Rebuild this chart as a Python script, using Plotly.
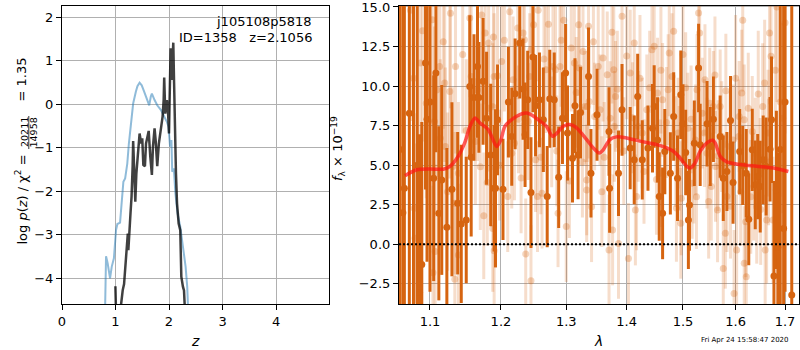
import plotly.graph_objects as go
import math

# ---------------- Left panel: log p(z) ----------------
z_black = [0.998, 1.01, 1.085, 1.11, 1.135, 1.16, 1.17, 1.19, 1.21, 1.23, 1.24, 1.26, 1.28, 1.30, 1.31, 1.32,
           1.33, 1.35, 1.37, 1.39, 1.41, 1.43, 1.45, 1.48, 1.50, 1.52, 1.55, 1.57, 1.60, 1.62, 1.65, 1.68,
           1.70, 1.73, 1.75, 1.78, 1.81, 1.85, 1.88, 1.90, 1.91, 1.93, 1.96, 1.98, 2.00, 2.01, 2.03, 2.05,
           2.07, 2.08, 2.095, 2.11, 2.13, 2.15, 2.18, 2.21, 2.23, 2.26, 2.28, 2.30]
logp_black = [-4.18, -4.8, -4.8, -4.46, -4.27, -4.13, -3.96, -3.59, -3.43, -2.97, -3.35, -2.72, -2.51, -2.12, -1.85, -1.43,
              -0.84, -1.59, -2.24, -1.59, -1.2, -0.82, -0.67, -0.9, -0.78, -1.39, -1.42, -0.9, -0.67, -0.61, -1.2, -1.62,
              -0.97, -0.55, -0.82, -1.42, -0.9, -0.55, -0.28, 0.1, 0.62, -0.21, 0.1, -0.13, -0.67, 0.02, 1.29, 0.56,
              1.33, 1.42, 0.48, -0.67, -1.59, -2.28, -2.74, -2.89, -3.96, -4.19, -4.28, -4.8]

z_blue = [0.804, 0.823, 0.854, 0.898, 0.93, 0.97, 1.01, 1.035, 1.085, 1.116, 1.147, 1.18, 1.22, 1.25, 1.29, 1.33,
          1.38, 1.41, 1.45, 1.49, 1.53, 1.58, 1.63, 1.66, 1.68, 1.73, 1.78, 1.85, 1.91, 1.96, 1.99, 2.02,
          2.045, 2.06, 2.09, 2.12, 2.16, 2.21, 2.26, 2.31, 2.34, 2.36]
logp_blue = [-4.8, -3.49, -3.66, -4.0, -3.73, -3.54, -2.89, -2.75, -2.72, -2.31, -1.78, -1.70, -1.36, -0.90, -0.36, 0.02,
             0.29, 0.42, 0.50, 0.44, 0.31, 0.14, -0.02, 0.18, 0.25, 0.10, -0.02, -0.13, -0.27, -0.40, -0.51, -0.97,
             -0.82, -1.55, -1.47, -2.05, -2.51, -2.81, -3.27, -3.73, -4.19, -4.8]

left_xticks = [0, 1, 2, 3, 4]
left_yticks = [-4, -3, -2, -1, 0, 1, 2]

# ---------------- Right panel: spectrum ----------------
lam_dark = [1.060, 1.064, 1.066, 1.0725, 1.078, 1.083, 1.086, 1.089, 1.094, 1.096,
            1.100, 1.105, 1.108, 1.112, 1.116, 1.123, 1.130, 1.138, 1.143, 1.150,
            1.155, 1.157, 1.161, 1.166, 1.168, 1.174, 1.179, 1.185, 1.190, 1.192,
            1.195, 1.203, 1.211, 1.216, 1.221, 1.228, 1.233, 1.236, 1.240, 1.245,
            1.248, 1.252, 1.258, 1.264, 1.270, 1.274, 1.281, 1.288, 1.294, 1.299,
            1.302, 1.310, 1.314, 1.319, 1.323, 1.336, 1.340, 1.350, 1.370, 1.371,
            1.386, 1.392, 1.406, 1.413, 1.419, 1.427, 1.437, 1.445, 1.448, 1.454,
            1.457, 1.463, 1.467, 1.477, 1.483, 1.490, 1.496, 1.500, 1.505, 1.510,
            1.512, 1.521, 1.529, 1.532, 1.545, 1.551, 1.557, 1.570, 1.576, 1.583,
            1.590, 1.595, 1.608, 1.614, 1.621, 1.626, 1.633, 1.639, 1.644, 1.649,
            1.655, 1.661, 1.669, 1.672, 1.677, 1.682, 1.685, 1.690, 1.697, 1.700,
            1.714]
flux_dark = [6.0, 2.0, 3.54, 8.29, 16.0, 5.0, -3.04, -1.27, 11.46, 7.9,
             9.0, 4.18, 10.82, 1.96, 4.07, 1.08, 3.48, 2.6, 1.29, 1.54,
             9.98, 5.5, 9.28, 11.24, 9.28, 10.3, 7.97, 5.65, 3.54, 3.54,
             7.87, 3.48, 8.99, 6.81, 9.51, 12.72, 9.81, 6.92, 9.13, 3.27,
             11.84, 8.76, 9.13, 7.87, 3.02, 9.2, 9.13, 4.24, 7.97, 10.82,
             7.03, 5.44, 8.76, 5.65, 8.33, 10.61, 4.49, 8.19, 7.13, 3.54,
             4.49, 8.5, 6.08, 5.34, 9.35, 5.34, 6.08, 7.34, 8.71, 6.6,
             3.02, 1.96, 5.86, 4.49, 8.08, 4.18, 9.45, 7.62, 5.8, 1.54,
             2.49, 6.39, 11.14, 6.29, 7.62, 6.18, 7.91, 6.81, 4.18, 4.6,
             7.83, 3.9, 5.86, 4.98, 4.49, 1.58, 5.97, 3.76, 4.28, 3.65,
             5.34, 4.92, 6.01, 7.87, -2.0, 3.44, -0.19, 6.0, 1.0, 9.0,
             -3.2]
err_dark = [25, 25, 20, 18, 20, 15, 10, 9, 8, 9,
            12, 6.5, 5, 5.5, 6, 5, 5.5, 4.5, 5, 4,
            4.5, 5, 4, 4.5, 3.5, 4, 4.2, 4.5, 4, 5,
            3.5, 3.2, 3.5, 3.1, 3.5, 3.5, 3.2, 3.3, 3.1, 3.5,
            3.5, 3.2, 3.0, 3.3, 3.2, 3.1, 3.0, 3.2, 2.9, 3.1,
            3.0, 2.8, 3.0, 2.8, 2.9, 3.1, 2.8, 2.9, 2.8, 2.8,
            2.7, 2.9, 2.6, 2.8, 2.7, 2.5, 2.7, 2.8, 2.6, 2.7,
            2.8, 2.9, 2.7, 2.6, 2.8, 2.7, 2.8, 2.5, 2.7, 3.1,
            2.9, 2.7, 2.8, 2.6, 2.7, 2.5, 2.7, 2.6, 2.7, 2.5,
            2.8, 2.6, 2.7, 2.5, 2.8, 2.9, 2.6, 2.8, 2.7, 2.9,
            2.8, 3.1, 3.3, 4, 6, 5, 6, 15, 15, 12,
            20]

lam_faint = [1.074, 1.079, 1.080, 1.078, 1.087, 1.090, 1.095, 1.103, 1.104, 1.106,
             1.107, 1.109, 1.113, 1.114, 1.118, 1.120, 1.121, 1.124, 1.127, 1.128,
             1.131, 1.134, 1.134, 1.135, 1.139, 1.139, 1.145, 1.150, 1.155, 1.157,
             1.163, 1.166, 1.170, 1.172, 1.175, 1.177, 1.180, 1.182, 1.182, 1.188,
             1.188, 1.189, 1.190, 1.190, 1.195, 1.198, 1.201, 1.205, 1.210, 1.213,
             1.216, 1.218, 1.220, 1.225, 1.226, 1.230, 1.233, 1.235, 1.237, 1.241,
             1.243, 1.245, 1.245, 1.249, 1.252, 1.255, 1.256, 1.260, 1.262, 1.265,
             1.268, 1.272, 1.277, 1.279, 1.283, 1.285, 1.287, 1.290, 1.292, 1.296,
             1.300, 1.305, 1.308, 1.313, 1.316, 1.320, 1.321, 1.326, 1.327, 1.330,
             1.333, 1.333, 1.334, 1.336, 1.337, 1.341, 1.344, 1.346, 1.352, 1.355,
             1.358, 1.360, 1.362, 1.367, 1.370, 1.372, 1.375, 1.376, 1.378, 1.379,
             1.381, 1.384, 1.386, 1.392, 1.395, 1.400, 1.403, 1.406, 1.410, 1.413,
             1.415, 1.417, 1.420, 1.423, 1.427, 1.430, 1.435, 1.440, 1.444, 1.448,
             1.452, 1.454, 1.459, 1.460, 1.463, 1.470, 1.473, 1.475, 1.480, 1.483,
             1.487, 1.488, 1.491, 1.493, 1.496, 1.497, 1.500, 1.505, 1.509, 1.515,
             1.517, 1.520, 1.523, 1.525, 1.526, 1.529, 1.531, 1.536, 1.540, 1.541,
             1.545, 1.548, 1.550, 1.553, 1.557, 1.560, 1.561, 1.565, 1.566, 1.570,
             1.573, 1.576, 1.580, 1.581, 1.583, 1.589, 1.590, 1.595, 1.597, 1.600,
             1.602, 1.606, 1.607, 1.610, 1.612, 1.614, 1.617, 1.617, 1.620, 1.621,
             1.625, 1.630, 1.633, 1.636, 1.639, 1.642, 1.645, 1.649, 1.650, 1.654,
             1.658, 1.659, 1.662, 1.665, 1.666, 1.668, 1.671, 1.675, 1.680, 1.683,
             1.690, 1.695, 1.700]
flux_faint = [14.8, 2.28, 0.38, 10.5, 11.46, 13.5, 8.92, 14.2, -1.8, 7.76,
              -0.46, 9.76, 11.24, 6.7, 12.8, 10.2, 6.18, 3.33, 9.66, 14.6,
              4.92, 2.6, -2.2, 11.24, 4.49, -0.67, 12.0, 7.2, 14.3, 10.6,
              6.5, 9.76, 4.9, 14.5, 1.8, 13.35, 3.9, 12.72, 8.6, 8.7,
              1.0, 13.1, 10.6, -0.4, 10.65, 5.0, 11.56, 12.9, 3.02, 14.7,
              5.76, 10.4, 6.39, 13.67, 7.9, 4.2, 13.35, 12.93, -0.61, 7.76,
              10.6, -2.3, 12.3, 13.88, 5.34, 3.02, 14.8, 5.5, 3.23, 11.71,
              11.03, 13.9, 7.1, 11.24, 11.03, 5.9, 1.96, 11.24, 12.9, 14.16,
              1.12, 4.0, 12.4, 11.46, 9.6, 13.88, 11.14, 5.2, 12.19, 8.71,
              4.07, 3.44, 8.71, 13.78, 9.03, 2.38, 12.8, 8.08, 11.24, 8.5,
              3.33, 11.77, 5.5, 10.72, -0.36, 7.97, 13.4, 0.91, 11.03, 7.45,
              9.35, 9.8, 0.06, 14.41, 5.9, 11.9, -0.89, 10.82, 8.0, 12.72,
              2.17, 3.02, 7.45, 10.5, 7.03, 4.6, 8.5, 9.9, 12.3, 12.51,
              4.1, 9.56, 4.49, 11.0, 9.13, 7.7, 9.77, 12.09, 10.6, 13.46,
              5.86, 2.3, 7.03, 5.44, 1.33, 2.91, 12.0, 9.9, 7.34, 7.9,
              3.86, 4.92, 6.6, 3.0, 9.77, 14.62, 13.35, 8.29, 7.03, 10.4,
              5.76, 2.7, 8.92, 3.65, 8.71, 10.7, 4.92, 2.17, 5.6, 8.71,
              6.81, -1.52, 0.7, 9.7, 3.02, 6.18, 2.4, 6.6, -3.1, 10.5,
              -0.36, 6.81, 8.08, 3.3, 9.56, 14.16, 7.87, -1.2, 1.43, -2.05,
              8.6, 3.0, 7.13, 3.65, 5.76, 2.38, 9.5, 4.49, 2.2, 8.71,
              10.2, -0.36, 1.54, 7.03, 5.2, 13.35, 11.88, 1.54, 11.0, 15.0,
              9.0, 7.97, 14.0]
err_faint = [7, 6, 6, 6.5, 6, 7, 6, 6.5, 5.5, 6,
             5.5, 5.5, 6, 5, 5.5, 5, 5, 5, 5.5, 6,
             5, 4.5, 5, 5.5, 4.5, 4.5, 5, 4.5, 5, 4.5,
             4, 4.5, 4, 5, 4, 4.5, 4, 4.5, 4, 4,
             4, 4.5, 4, 4, 4.5, 3.5, 4, 4.5, 3.5, 4.5,
             3.5, 4, 3.6, 4.5, 3.4, 3.5, 4, 4.1, 3.5, 3.7,
             4, 3.5, 4, 4.5, 3.3, 3.5, 4.5, 3.6, 3.5, 4,
             4, 4.5, 3.5, 4.1, 4, 3.5, 3.4, 4, 4.2, 4.5,
             3.5, 3.6, 4, 4.1, 3.5, 4.5, 4, 3.5, 4, 3.5,
             3.5, 3.3, 3.5, 4.5, 3.6, 3.5, 4, 3.4, 4, 3.5,
             3.5, 4, 3.5, 4, 3.5, 3.6, 4.5, 3.5, 4, 3.5,
             3.5, 3.7, 3.5, 4.5, 3.4, 4, 3.5, 4, 3.5, 4,
             3.5, 3.4, 3.5, 4, 3.5, 3.3, 3.5, 3.6, 4, 4,
             3.5, 3.5, 3.4, 4, 3.6, 3.5, 3.5, 4, 4, 4.5,
             3.5, 3.4, 3.5, 3.3, 3.5, 3.6, 4, 3.5, 3.5, 3.4,
             3.5, 3.6, 3.5, 3.3, 3.5, 4.5, 4.5, 3.5, 3.4, 3.5,
             3.5, 3.6, 3.5, 3.4, 3.5, 3.7, 3.5, 3.3, 3.5, 3.6,
             3.5, 3.4, 3.5, 3.6, 3.5, 3.5, 3.3, 3.5, 4, 4,
             3.5, 3.6, 3.5, 3.4, 4, 4.5, 3.5, 3.6, 3.5, 3.4,
             3.5, 3.6, 3.5, 3.4, 3.5, 3.6, 4, 3.5, 3.5, 4,
             4, 3.5, 4, 4, 4, 4.5, 4.5, 4, 5, 6,
             6, 6, 7]

lam_model = [1.0668, 1.0822, 1.1000, 1.1181, 1.1273, 1.1388, 1.1478, 1.1553, 1.1624, 1.1695,
             1.1815, 1.1937, 1.2000, 1.2059, 1.2233, 1.2385, 1.2490, 1.2587, 1.2689, 1.2783,
             1.2846, 1.2952, 1.3059, 1.3166, 1.3329, 1.3438, 1.3537, 1.3604, 1.3715, 1.3828,
             1.3998, 1.4228, 1.4525, 1.4704, 1.4825, 1.4947, 1.5071, 1.5132, 1.5225, 1.5318,
             1.5445, 1.5559, 1.5604, 1.5699, 1.5828, 1.6088, 1.6420, 1.6758, 1.7069]
flux_model = [4.33, 4.71, 4.76, 4.75, 4.93, 5.57, 6.41, 7.46, 7.99, 7.67,
              7.25, 6.19, 6.61, 7.46, 8.10, 8.30, 8.10, 7.79, 7.46, 6.83,
              7.00, 7.46, 7.57, 7.36, 6.62, 6.09, 5.77, 5.98, 6.62, 6.79,
              6.72, 6.52, 6.30, 6.09, 5.88, 5.45, 4.93, 4.82, 5.14, 5.88,
              6.41, 6.58, 6.41, 5.57, 5.21, 5.04, 4.93, 4.82, 4.60]

right_xticks = [1.1, 1.2, 1.3, 1.4, 1.5, 1.6, 1.7]
right_yticks = [-2.5, 0.0, 2.5, 5.0, 7.5, 10.0, 12.5, 15.0]

# ---------------- Figure ----------------
W, H = 800, 350
def px(xp):
    return xp / W
def py(yp):
    return 1 - yp / H

FONT = "DejaVu Sans"
DARK = "rgb(214,100,16)"

fig = go.Figure()

fig.add_trace(go.Scatter(x=z_blue, y=logp_blue, mode="lines",
                         line=dict(color="rgba(31,119,180,0.5)", width=2),
                         xaxis="x", yaxis="y", showlegend=False))
fig.add_trace(go.Scatter(x=z_black, y=logp_black, mode="lines",
                         line=dict(color="rgba(0,0,0,0.75)", width=2.5),
                         xaxis="x", yaxis="y", showlegend=False))

nf = min(len(lam_faint), len(flux_faint), len(err_faint))
fig.add_trace(go.Scatter(x=lam_faint[:nf], y=flux_faint[:nf], mode="markers",
                         marker=dict(color="rgba(214,100,16,0.28)", size=7, line=dict(width=0)),
                         error_y=dict(type="data", array=err_faint[:nf], visible=True,
                                      thickness=3, width=0, color="rgba(214,100,16,0.22)"),
                         xaxis="x2", yaxis="y2", showlegend=False))
nd = min(len(lam_dark), len(flux_dark), len(err_dark))
fig.add_trace(go.Scatter(x=lam_dark[:nd], y=flux_dark[:nd], mode="markers",
                         marker=dict(color=DARK, size=7, line=dict(width=0)),
                         error_y=dict(type="data", array=err_dark[:nd], visible=True,
                                      thickness=3, width=0, color=DARK),
                         xaxis="x2", yaxis="y2", showlegend=False))
fig.add_trace(go.Scatter(x=lam_model, y=flux_model, mode="lines",
                         line=dict(color="rgba(255,20,20,0.7)", width=3.5, shape="spline", smoothing=0.8),
                         xaxis="x2", yaxis="y2", showlegend=False))

axis_common = dict(showline=True, linecolor="black", linewidth=1.2, mirror=True,
                   ticks="outside", ticklen=5, tickwidth=1.1, tickcolor="black",
                   showgrid=True, gridcolor="#b0b0b0", gridwidth=1, zeroline=False,
                   tickfont=dict(family=FONT, size=13, color="black"), automargin=False,
                   ticklabeloverflow="allow")

ydom = [py(304), py(5.7)]
fig.update_layout(
    width=W, height=H, margin=dict(l=0, r=0, t=0, b=0),
    paper_bgcolor="white", plot_bgcolor="white", showlegend=False,
    font=dict(family=FONT, size=13, color="black"),
    xaxis=dict(domain=[px(62), px(329)], range=[0, 4.99], tickvals=left_xticks,
               anchor="y", **axis_common),
    yaxis=dict(domain=ydom, range=[-4.59, 2.27], tickvals=left_yticks,
               anchor="x", **axis_common),
    xaxis2=dict(domain=[px(399), px(799)], type="log",
                range=[math.log10(1.059), math.log10(1.7293)],
                tickvals=right_xticks, ticktext=[f"{v:.1f}" for v in right_xticks],
                anchor="y2", **axis_common),
    yaxis2=dict(domain=ydom, range=[-3.77, 15.08], tickvals=right_yticks,
                ticktext=[("\u2212" if v < 0 else "") + f"{abs(v):.1f}" for v in right_yticks],
                anchor="x2", **axis_common),
)

# zero line (dotted)
fig.add_shape(type="line", xref="x2 domain", x0=0, x1=1, yref="y2", y0=0, y1=0,
              line=dict(color="black", width=2, dash="2px,2px"), layer="above")

ann = []
# left y title, built from pieces
ann.append(dict(x=px(21.5), y=py(200), xref="paper", yref="paper", showarrow=False,
                text="log <i>p</i>(<i>z</i>) / χ<sup>2</sup> =", textangle=-90,
                font=dict(family=FONT, size=13), xanchor="center", yanchor="middle"))
ann.append(dict(x=px(24.5), y=py(132.5), xref="paper", yref="paper", showarrow=False,
                text="20211", textangle=-90, font=dict(family=FONT, size=9.5),
                xanchor="center", yanchor="middle"))
ann.append(dict(x=px(33), y=py(132.5), xref="paper", yref="paper", showarrow=False,
                text="14958", textangle=-90, font=dict(family=FONT, size=9.5),
                xanchor="center", yanchor="middle"))
ann.append(dict(x=px(21.5), y=py(80), xref="paper", yref="paper", showarrow=False,
                text="= 1.35", textangle=-90,
                font=dict(family=FONT, size=13), xanchor="center", yanchor="middle"))
fig.add_shape(type="line", xref="paper", yref="paper", x0=px(28.8), x1=px(28.8),
              y0=py(116), y1=py(149), line=dict(color="black", width=0.8))

# right y title
ann.append(dict(x=px(338), y=py(149), xref="paper", yref="paper", showarrow=False,
                text="<i>f</i><sub>λ</sub> × 10<sup>\u221219</sup>", textangle=-90,
                font=dict(family=FONT, size=13), xanchor="center", yanchor="middle"))
# x titles
ann.append(dict(x=px(195), y=py(341), xref="paper", yref="paper", showarrow=False,
                text="<i>z</i>", font=dict(family=FONT, size=14), xanchor="center", yanchor="middle"))
ann.append(dict(x=px(598), y=py(341), xref="paper", yref="paper", showarrow=False,
                text="<i>λ</i>", font=dict(family=FONT, size=14), xanchor="center", yanchor="middle"))
# object labels
ann.append(dict(x=px(314), y=py(22), xref="paper", yref="paper", showarrow=False,
                text="j105108p5818", font=dict(family=FONT, size=13),
                xanchor="right", yanchor="middle"))
ann.append(dict(x=px(314), y=py(37.5), xref="paper", yref="paper", showarrow=False,
                text="ID=1358\u00a0\u00a0\u00a0z=2.1056", font=dict(family=FONT, size=13),
                xanchor="right", yanchor="middle"))
# timestamp
ann.append(dict(x=px(745), y=py(340), xref="paper", yref="paper", showarrow=False,
                text="Fri Apr 24 15:58:47 2020", font=dict(family=FONT, size=7),
                xanchor="center", yanchor="middle"))

fig.update_layout(annotations=ann)
fig.write_html("out.html", config={"displayModeBar": False},
               post_script="document.body.style.margin='0px';document.body.style.overflow='hidden';")
